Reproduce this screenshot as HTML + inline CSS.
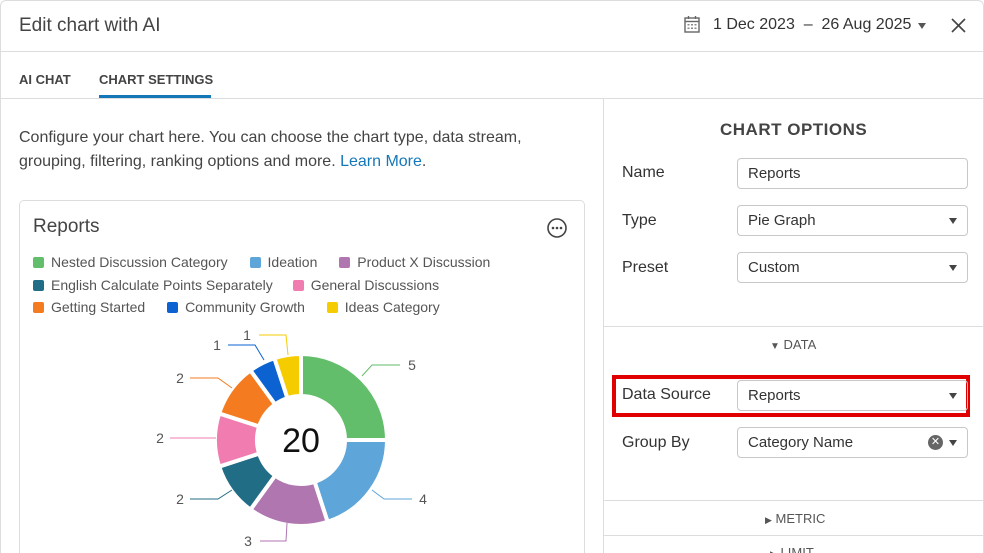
<!DOCTYPE html>
<html style="width:984px;height:553px;overflow:hidden"><head><meta charset="utf-8"><style>
*{box-sizing:border-box;margin:0;padding:0}
body{width:984px;height:553px;overflow:hidden;background:#fff;font-family:"Liberation Sans",sans-serif;color:#333;position:relative}
#w{position:absolute;left:0;top:0;width:984px;height:553px;overflow:hidden}
.a{position:absolute;white-space:nowrap}
.inp{position:absolute;left:737px;width:231px;height:31px;border:1px solid #c8c8c8;border-radius:4px;font-size:15px;padding:6px 10px;color:#333}
.lbl{position:absolute;left:622px;font-size:16px;color:#333}
.car{position:absolute;right:10px;top:12px;width:0;height:0;border-left:4.5px solid transparent;border-right:4.5px solid transparent;border-top:6px solid #444}
.sq{display:inline-block;width:11px;height:11px;border-radius:2px;margin-right:7px;vertical-align:-1px}
.leg{font-size:14px;color:#555}
</style></head><body><div id="w">
<div class="a" style="left:0;top:0;width:984px;height:620px;border:1px solid #ddd;border-radius:6px"></div>
<div class="a" style="left:19px;top:15px;font-size:19px;color:#444">Edit chart with AI</div>
<svg class="a" style="left:683px;top:15px" width="18" height="18" viewBox="0 0 18 18"><rect x="2" y="3" width="14" height="14" fill="none" stroke="#666" stroke-width="1.4"/><line x1="2" y1="6.5" x2="16" y2="6.5" stroke="#666" stroke-width="1.4"/><line x1="5.5" y1="1" x2="5.5" y2="4" stroke="#666" stroke-width="1.4"/><line x1="12.5" y1="1" x2="12.5" y2="4" stroke="#666" stroke-width="1.4"/><g fill="#888"><rect x="4.5" y="9" width="2" height="1.5"/><rect x="8" y="9" width="2" height="1.5"/><rect x="11.5" y="9" width="2" height="1.5"/><rect x="4.5" y="12.5" width="2" height="1.5"/><rect x="8" y="12.5" width="2" height="1.5"/><rect x="11.5" y="12.5" width="2" height="1.5"/></g></svg>
<div class="a" style="left:713px;top:16px;font-size:16px;color:#333">1 Dec 2023 &nbsp;–&nbsp; 26 Aug 2025</div>
<div class="a" style="left:918px;top:23px;border-left:4.5px solid transparent;border-right:4.5px solid transparent;border-top:6px solid #555"></div>
<svg class="a" style="left:951px;top:18px" width="15" height="15"><path d="M1 1L14 14M14 1L1 14" stroke="#444" stroke-width="1.6"/></svg>
<div class="a" style="left:0;top:51px;width:984px;height:1px;background:#ddd"></div>
<div class="a" style="left:19px;top:72px;font-size:13px;font-weight:bold;color:#444">AI CHAT</div>
<div class="a" style="left:99px;top:72px;font-size:13px;font-weight:bold;color:#444">CHART SETTINGS</div>
<div class="a" style="left:99px;top:95px;width:112px;height:3px;background:#1477b8"></div>
<div class="a" style="left:0;top:98px;width:984px;height:1px;background:#ddd"></div>
<div class="a" style="left:603px;top:98px;width:1px;height:455px;background:#ddd"></div>
<div class="a" style="left:19px;top:126px;font-size:16px;color:#444;line-height:24px;white-space:normal;width:570px">Configure your chart here. You can choose the chart type, data stream, grouping, filtering, ranking options and more. <span style="color:#1477b8">Learn More</span>.</div>
<div class="a" style="left:19px;top:200px;width:566px;height:400px;border:1px solid #ddd;border-radius:5px"></div>
<div class="a" style="left:33px;top:216px;font-size:19px;color:#444">Reports</div>
<svg class="a" style="left:546px;top:217px" width="22" height="22"><circle cx="11" cy="11" r="9" fill="none" stroke="#444" stroke-width="1.6"/><circle cx="7" cy="11" r="1.3" fill="#444"/><circle cx="11" cy="11" r="1.3" fill="#444"/><circle cx="15" cy="11" r="1.3" fill="#444"/></svg>
<div class="a leg" style="left:33px;top:254px"><span class="sq" style="background:#62be6a"></span>Nested Discussion Category <span style="display:inline-block;width:18px"></span><span class="sq" style="background:#5ea5da"></span>Ideation <span style="display:inline-block;width:18px"></span><span class="sq" style="background:#b076b0"></span>Product X Discussion</div>
<div class="a leg" style="left:33px;top:277px"><span class="sq" style="background:#226d86"></span>English Calculate Points Separately <span style="display:inline-block;width:16px"></span><span class="sq" style="background:#f17db0"></span>General Discussions</div>
<div class="a leg" style="left:33px;top:299px"><span class="sq" style="background:#f47b20"></span>Getting Started <span style="display:inline-block;width:18px"></span><span class="sq" style="background:#0b62d0"></span>Community Growth <span style="display:inline-block;width:18px"></span><span class="sq" style="background:#f5cc00"></span>Ideas Category</div>
<svg id="d" class="a" style="left:0;top:0" width="603" height="553"></svg>
<div class="a" style="left:720px;top:120px;font-size:17px;font-weight:bold;color:#444;letter-spacing:0.5px">CHART OPTIONS</div>
<div class="lbl" style="top:164px">Name</div>
<div class="inp" style="top:158px">Reports</div>
<div class="lbl" style="top:212px">Type</div>
<div class="inp" style="top:205px">Pie Graph<div class="car"></div></div>
<div class="lbl" style="top:259px">Preset</div>
<div class="inp" style="top:252px">Custom<div class="car"></div></div>
<div class="a" style="left:604px;top:326px;width:380px;height:1px;background:#ddd"></div>
<div class="a" style="left:770px;top:337px;font-size:13px;color:#555"><span style="font-size:10px">▼</span> DATA</div>
<div class="a" style="left:612px;top:375px;width:358px;height:42px;border:4px solid #e00000"></div>
<div class="lbl" style="top:386px">Data Source</div>
<div class="inp" style="top:380px">Reports<div class="car"></div></div>
<div class="lbl" style="top:434px">Group By</div>
<div class="inp" style="top:427px">Category Name<div class="car"></div><div style="position:absolute;right:24px;top:7px;width:15px;height:15px;border-radius:50%;background:#666;color:#fff;font-size:11px;line-height:15px;text-align:center">✕</div></div>
<div class="a" style="left:604px;top:500px;width:380px;height:1px;background:#ddd"></div>
<div class="a" style="left:765px;top:511px;font-size:13px;color:#555"><span style="font-size:9px">▶</span> METRIC</div>
<div class="a" style="left:604px;top:535px;width:380px;height:1px;background:#ddd"></div>
<div class="a" style="left:770px;top:545px;font-size:13px;color:#555"><span style="font-size:9px">▶</span> LIMIT</div>
</div>
<script>
var s=document.getElementById('d'),cx=301,cy=440,R=86,r=44,h='';
var v=[5,4,3,2,2,2,1,1],c=['#62be6a','#5ea5da','#b076b0','#226d86','#f17db0','#f47b20','#0b62d0','#f5cc00'],a=0;
function p(rr,t){return (cx+rr*Math.sin(t)).toFixed(2)+' '+(cy-rr*Math.cos(t)).toFixed(2)}
for(var i=0;i<8;i++){var t0=a/20*2*Math.PI,t1=(a+v[i])/20*2*Math.PI;a+=v[i];var l=(t1-t0)>Math.PI?1:0;
h+='<path d="M'+p(R,t0)+' A'+R+' '+R+' 0 '+l+' 1 '+p(R,t1)+' L'+p(r,t1)+' A'+r+' '+r+' 0 '+l+' 0 '+p(r,t0)+' Z" fill="'+c[i]+'" stroke="#fff" stroke-width="4" stroke-linejoin="round"/>';}
var L=[[362,376,372,365,400,365,412,'5'],[372,490,384,499,412,499,423,'4'],[287,523,286,541,260,541,248,'3'],[232,490,218,499,190,499,180,'2'],[216,438,200,438,170,438,160,'2'],[232,388,218,378,190,378,180,'2'],[264,360,255,345,228,345,217,'1'],[288,355,286,335,259,335,247,'1']];
for(i=0;i<8;i++){var q=L[i];h+='<polyline points="'+q[0]+','+q[1]+' '+q[2]+','+q[3]+' '+q[4]+','+q[5]+'" fill="none" stroke="'+c[i]+'" stroke-width="1"/><text x="'+q[6]+'" y="'+(q[5]+5)+'" font-size="14" fill="#555" text-anchor="middle" font-family="Liberation Sans">'+q[7]+'</text>';}
h+='<text x="301" y="452" font-size="34" fill="#111" text-anchor="middle" font-family="Liberation Sans">20</text>';
s.innerHTML=h;
</script>
</body></html>
